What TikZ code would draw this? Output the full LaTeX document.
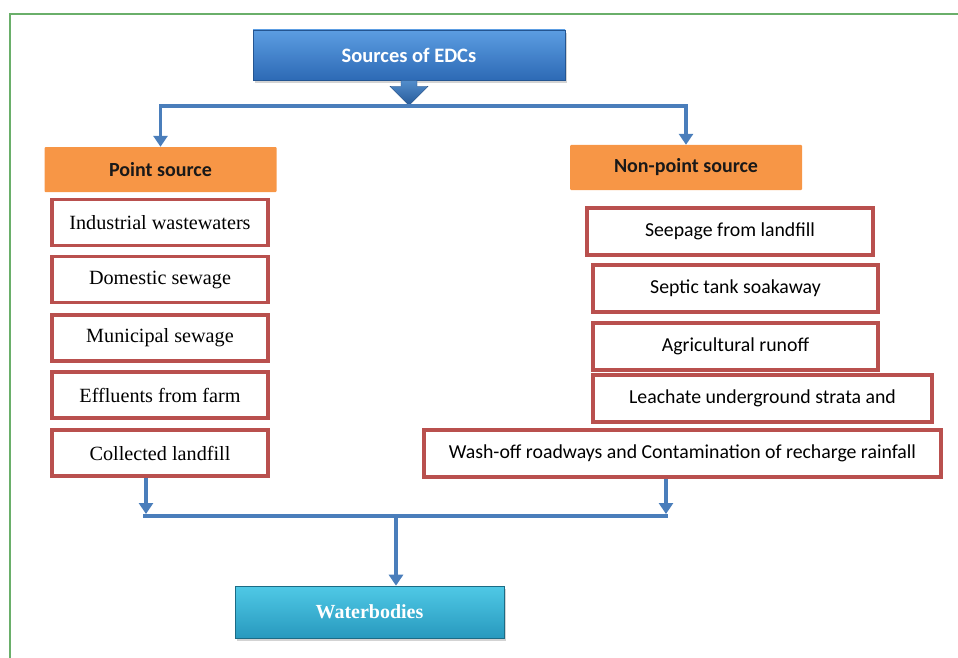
\documentclass[tikz,border=0pt]{standalone}
\usepackage{fontspec}
\setmainfont{Liberation Serif}
\newfontfamily\carl{Carlito}
\usetikzlibrary{arrows.meta,shadows,calc}
\definecolor{connblue}{HTML}{4A7EBB}
\definecolor{boxred}{HTML}{B9504E}
\definecolor{orangefill}{HTML}{F79646}
\definecolor{frame}{HTML}{6AAF6A}
\definecolor{srctop}{HTML}{5C9DE2}
\definecolor{srcbot}{HTML}{2D6AB5}
\definecolor{wbtop}{HTML}{4FC9E6}
\definecolor{wbbot}{HTML}{2899BE}
\tikzset{
  conn/.style={draw=connblue, line width=3.8pt},
  tip/.style={-{Triangle[length=11pt,width=14pt]}},
  itembox/.style={draw=boxred, line width=3.4pt, fill=white, rectangle, minimum height=46pt, inner sep=0pt, font=\fontsize{20.2}{23}\selectfont},
  serifbox/.style={itembox, minimum width=216pt},
  sansbox/.style={itembox, font=\carl\fontsize{19.8}{23}\selectfont},
  headbox/.style={rectangle, fill=orangefill, minimum width=232pt, minimum height=45pt, inner sep=0pt, rounded corners=1pt, text=black!90, font=\carl\bfseries\fontsize{20}{23}\selectfont},
  srcbox/.style={rectangle, minimum width=312pt, minimum height=50pt, inner sep=0pt, top color=srctop, bottom color=srcbot, draw=srcbot!80!black, line width=0.6pt, text=white, font=\carl\bfseries\fontsize{20.5}{23}\selectfont, drop shadow={opacity=0.35, shadow xshift=2pt, shadow yshift=-3pt}},
  wbbox/.style={rectangle, minimum width=269pt, minimum height=52pt, inner sep=0pt, top color=wbtop, bottom color=wbbot, draw=wbbot!70!black, line width=0.6pt, text=white, font=\bfseries\fontsize{20}{23}\selectfont, drop shadow={opacity=0.35, shadow xshift=2pt, shadow yshift=-3pt}}
}
\begin{document}
\begin{tikzpicture}[x=1pt,y=-1pt]
\useasboundingbox (0,0) rectangle (958,658);
% frame
\draw[frame, line width=1.5pt] (10,658) -- (10,14) -- (958,14);

% top
\node[srcbox] (src) at (409,55) {Sources of EDCs};
\shade[top color=srctop!90!black, bottom color=srcbot!85!black, draw=srcbot!70!black, line width=0.4pt]
  ($(src.south)+(-8,0)$) -- ($(src.south)+(8,0)$) -- ($(src.south)+(8,6)$) -- ($(src.south)+(19,6)$) --
  ($(src.south)+(0,25)$) -- ($(src.south)+(-19,6)$) -- ($(src.south)+(-8,6)$) -- cycle;

\node[headbox] (ps) at (160.5,169.5) {Point source};
\node[headbox] (nps) at (686,167.5) {Non-point source};

\coordinate (hub) at (409,106);
\draw[conn,tip] (hub) -| (ps.north);
\draw[conn,tip] (hub) -| (nps.north);

% left items
\node[serifbox] (l1) at (160,222.5) {Industrial wastewaters};
\node[serifbox] (l2) at (160,279.5) {Domestic sewage};
\node[serifbox] (l3) at (160,338) {Municipal sewage};
\node[serifbox] (l4) at (160,395) {Effluents from farm};
\node[serifbox] (l5) at (160,453) {Collected landfill};

% right items
\node[sansbox, minimum width=286pt, minimum height=47pt] (r1) at (730,231.5) {Seepage from landfill};
\node[sansbox, minimum width=285pt, minimum height=47pt] (r2) at (735.5,288.5) {Septic tank soakaway};
\node[sansbox, minimum width=285pt, minimum height=47pt] (r3) at (735.5,346.5) {Agricultural runoff};
\node[sansbox, minimum width=339pt, minimum height=47pt] (r4) at (762.5,398.5) {Leachate underground strata and};
\node[sansbox, minimum width=517pt, minimum height=47pt] (r5) at (682.5,453.5) {Wash-off roadways and Contamination of recharge rainfall};

% bottom
\node[wbbox] (wb) at (369.5,612) {Waterbodies};

\coordinate (jl) at (146,516);
\coordinate (jr) at (666,516);
\coordinate (jm) at (396,516);
\draw[conn,tip,shorten >=2pt] (l5.south -| jl) -- (jl);
\draw[conn,tip,shorten >=2pt] (r5.south -| jr) -- (jr);
\draw[conn] ($(jl)+(-3,0)$) -- ($(jr)+(2,0)$);
\draw[conn,tip] (jm) -- (jm |- wb.north);
\end{tikzpicture}
\end{document}
